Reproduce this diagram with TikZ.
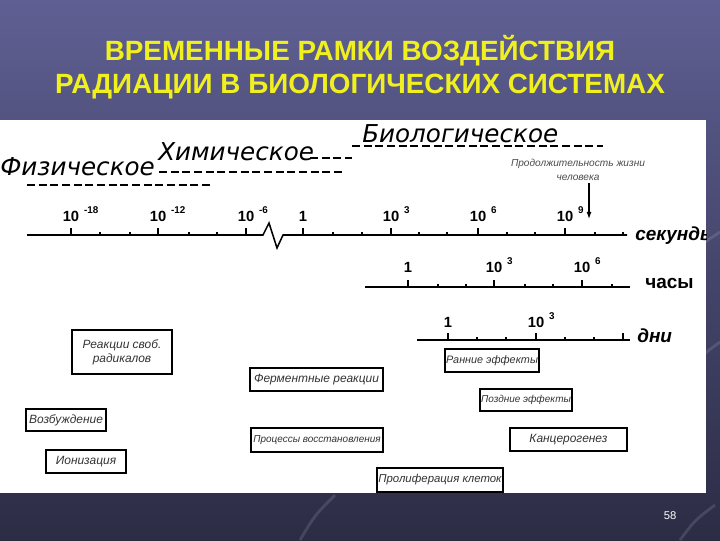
\documentclass[tikz,border=0pt]{standalone}
\usepackage{fontspec}
\setmainfont{Liberation Sans}
\newfontfamily\stagefont{DejaVu Sans}
\usetikzlibrary{arrows.meta}

\definecolor{bgtop}{HTML}{5F5F93}
\definecolor{bgbottom}{HTML}{2C2C45}
\definecolor{titleyellow}{HTML}{F0F01E}

% power of ten over a tick, the "10" centred on it
\newcommand\tenpow[1]{10\rlap{\hspace{3.5pt}\raisebox{5.5pt}{\fontsize{7}{8}\selectfont #1}}}

\begin{document}
\begin{tikzpicture}[x=0.025cm,y=-0.025cm,
  stage/.style={font=\stagefont\itshape\fontsize{17.5}{20}\selectfont,anchor=base west,inner sep=0},
  stagedash/.style={line width=1.1pt,dash pattern=on 5.7pt off 2.6pt},
  axisline/.style={line width=1.1pt},
  tickmark/.style={line width=1pt},
  ticklabel/.style={font=\bfseries\fontsize{10.5}{12}\selectfont,anchor=base,inner sep=0},
  unitlabel/.style={font=\bfseries\itshape\fontsize{13.5}{15}\selectfont,anchor=base west,inner sep=0},
  effect/.style={draw,line width=1.2pt,inner sep=0,align=center,text=black!80,font=\itshape\fontsize{8.5}{10}\selectfont},
  smallfx/.style={font=\itshape\fontsize{7.1}{9}\selectfont}]

% background
  \shade[top color=bgtop,bottom color=bgbottom] (0,0) rectangle (720,540);
  \useasboundingbox (0,0) rectangle (720,540);
  \draw[white,opacity=.12,line width=2pt] (688,262) .. controls (700,245) .. (720,232);
  \draw[white,opacity=.12,line width=2pt] (690,372) .. controls (702,355) .. (720,342);
  \draw[white,opacity=.12,line width=2pt] (300,540) .. controls (315,515) .. (335,495);
  \draw[white,opacity=.12,line width=2pt] (680,540) .. controls (695,520) .. (715,505);

% title
  \node[font=\bfseries\fontsize{19.8}{23.5}\selectfont,text=titleyellow,align=center] (title) at (360,67)
    {ВРЕМЕННЫЕ РАМКИ ВОЗДЕЙСТВИЯ\\РАДИАЦИИ В БИОЛОГИЧЕСКИХ СИСТЕМАХ};

% panel
  \fill[white] (0,120) rectangle (706,493);
  \begin{scope}
  \clip (0,120) rectangle (706,493);

% stages
  \node[stage] (phys) at (0,175) {Физическое};
  \node[stage] (chem) at (158,160) {Химическое};
  \node[stage] (bio) at (362,142) {Биологическое};
  \draw[stagedash] (27,185) -- (213,185);
  \draw[stagedash] (159,172) -- (343,172);
  \draw[stagedash] (310,158) -- (352,158);
  \draw[stagedash] (352,146) -- (603,146);

% life span
  \node[font=\itshape\fontsize{7.2}{9.5}\selectfont,text=black!70,align=center] (life) at (578,170)
    {Продолжительность жизни\\человека};
  \coordinate (lifetop) at (589,183);
  \coordinate (lifeend) at (589,219);
  \draw[line width=.8pt,-{Latex[length=5pt,width=3.5pt]}] (lifetop) -- (lifeend);

% seconds
  \draw[axisline] (27,235) -- (263,235) -- (269,223) -- (277,248) -- (283,235) -- (627,235);
  \foreach \x in {100,130,189,217,333,362,419,447,507,535,595,623}
    \draw[tickmark] (\x,235) -- (\x,232);
  \foreach \x/\xtext in {71/\tenpow{-18},158/\tenpow{-12},246/\tenpow{-6},303/1,391/\tenpow{3},478/\tenpow{6},565/\tenpow{9}}{
    \draw[tickmark] (\x,235) -- (\x,228);
    \node[ticklabel] (sec\x) at (\x,221) {\xtext};
  }
  \node[unitlabel] (seconds) at (635,240) {секунды};

% hours
  \draw[axisline] (365,287) -- (630,287);
  \foreach \x in {438,466,525,553,612}
    \draw[tickmark] (\x,287) -- (\x,284);
  \foreach \x/\xtext in {408/1,494/\tenpow{3},582/\tenpow{6}}{
    \draw[tickmark] (\x,287) -- (\x,280);
    \node[ticklabel] (hour\x) at (\x,272) {\xtext};
  }
  \node[unitlabel,font=\bfseries\fontsize{13.5}{15}\selectfont] (hours) at (645,288) {часы};

% days
  \draw[axisline] (417,340) -- (630,340);
  \foreach \x in {477,506,565,594}
    \draw[tickmark] (\x,340) -- (\x,337);
  \foreach \x in {448,536,623}
    \draw[tickmark] (\x,340) -- (\x,333);
  \node[ticklabel] (day448) at (448,327) {1};
  \node[ticklabel] (day536) at (536,327) {\tenpow{3}};
  \node[unitlabel] (days) at (637,342) {дни};

% effects
  \node[effect,minimum width=71.1pt,minimum height=31.3pt] (radicals) at (122,352) {Реакции своб.\\радикалов};
  \node[effect,minimum width=94.6pt,minimum height=16.4pt] (enzyme) at (316.5,379.5) {Ферментные реакции};
  \node[effect,minimum width=56.9pt,minimum height=15.6pt] (excitation) at (66,420) {Возбуждение};
  \node[effect,minimum width=56.9pt,minimum height=16.4pt] (ionization) at (86,461.5) {Ионизация};
  \node[effect,smallfx,minimum width=93.9pt,minimum height=17.1pt] (repair) at (317,440) {Процессы восстановления};
  \node[effect,font=\itshape\fontsize{7.7}{9}\selectfont,minimum width=66.8pt,minimum height=16.4pt] (early) at (492,360.5) {Ранние эффекты};
  \node[effect,smallfx,minimum width=65.4pt,minimum height=15.6pt] (late) at (526,400) {Поздние эффекты};
  \node[effect,minimum width=83.2pt,minimum height=16.4pt] (cancer) at (568.5,439.5) {Канцерогенез};
  \node[effect,font=\itshape\fontsize{8.1}{9}\selectfont,minimum width=89.6pt,minimum height=17.1pt] (prolif) at (440,480) {Пролиферация клеток};
  \end{scope}

% page
  \node[text=white,font=\fontsize{8}{9}\selectfont] (page) at (670,516) {58};
\end{tikzpicture}
\end{document}
